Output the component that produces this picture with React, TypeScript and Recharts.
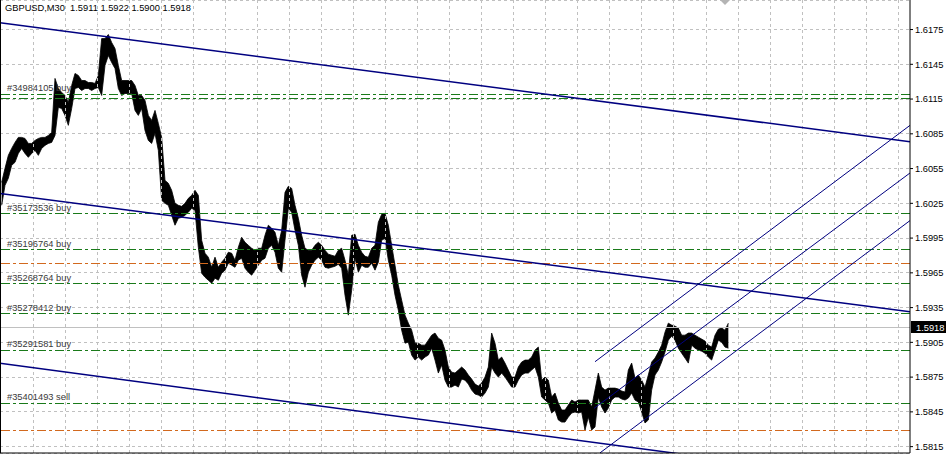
import React from 'react';
import { ComposedChart, Area, XAxis, YAxis, CartesianGrid, ReferenceLine, ReferenceDot } from 'recharts';

// ---- price data (one entry per time slot, high / low) ----
const highs = [
  1.60431,1.60552,1.60664,1.60724,1.60776,1.60819,1.60819,1.60810,1.60767,1.60767,
  1.60793,1.60810,1.60819,1.60819,1.60836,1.60862,1.61328,1.61241,1.61207,1.61181,
  1.61121,1.61267,1.61371,1.61354,1.61310,1.61310,1.61293,1.61293,1.61285,1.61354,
  1.61672,1.61672,1.61707,1.61638,1.61586,1.61440,1.61310,1.61310,1.61310,1.61310,
  1.61267,1.61181,1.61181,1.61138,1.61009,1.60966,1.61052,1.60940,1.60819,1.60448,
  1.60423,1.60362,1.60250,1.60233,1.60224,1.60250,1.60293,1.60319,1.60362,1.60319,
  1.59931,1.59819,1.59785,1.59698,1.59785,1.59698,1.59742,1.59776,1.59828,1.59819,
  1.59759,1.59871,1.59957,1.59914,1.59888,1.59862,1.59845,1.59862,1.59862,1.59974,
  1.60061,1.60035,1.60000,1.59888,1.60017,1.60345,1.60397,1.60379,1.60233,1.60121,
  1.59974,1.59862,1.59845,1.59845,1.59888,1.59914,1.59888,1.59845,1.59811,1.59802,
  1.59793,1.59845,1.59862,1.59759,1.59630,1.59974,1.59983,1.59888,1.59828,1.59793,
  1.59785,1.59862,1.59888,1.60086,1.60155,1.60164,1.60061,1.59888,1.59716,1.59543,
  1.59414,1.59285,1.59216,1.59155,1.59043,1.59043,1.59026,1.59026,1.59069,1.59112,
  1.59130,1.59086,1.59069,1.58983,1.58837,1.58793,1.58785,1.58811,1.58837,1.58811,
  1.58768,1.58733,1.58690,1.58673,1.58699,1.58750,1.58837,1.59130,1.59043,1.58897,
  1.58923,1.58871,1.58811,1.58750,1.58750,1.58837,1.58880,1.58897,1.58897,1.58923,
  1.58983,1.59009,1.58724,1.58750,1.58724,1.58578,1.58612,1.58526,1.58466,1.58466,
  1.58509,1.58552,1.58535,1.58552,1.58552,1.58552,1.58552,1.58492,1.58638,1.58785,
  1.58664,1.58638,1.58655,1.58655,1.58655,1.58647,1.58630,1.58621,1.58811,1.58871,
  1.58742,1.58768,1.58724,1.58664,1.58768,1.58880,1.58914,1.58966,1.59026,1.59138,
  1.59216,1.59199,1.59190,1.59173,1.59112,1.59112,1.59130,1.59130,1.59112,1.59095,
  1.59078,1.59061,1.59026,1.59009,1.59112,1.59164,1.59173,1.59155,1.59216,
];

const lows = [
  1.60233,1.60405,1.60466,1.60578,1.60604,1.60681,1.60724,1.60681,1.60647,1.60681,
  1.60707,1.60664,1.60724,1.60750,1.60767,1.60776,1.60836,1.61078,1.61069,1.61009,
  1.60923,1.61069,1.61241,1.61250,1.61224,1.61241,1.61241,1.61224,1.61241,1.61250,
  1.61181,1.61440,1.61526,1.61466,1.61414,1.61241,1.61181,1.61198,1.61198,1.61198,
  1.61052,1.61009,1.61069,1.60879,1.60793,1.60767,1.60854,1.60707,1.60276,1.60250,
  1.60233,1.60147,1.60061,1.60121,1.60129,1.60147,1.60173,1.60207,1.60190,1.59871,
  1.59647,1.59612,1.59586,1.59561,1.59604,1.59586,1.59647,1.59673,1.59733,1.59716,
  1.59698,1.59759,1.59776,1.59690,1.59655,1.59630,1.59673,1.59716,1.59759,1.59776,
  1.59862,1.59888,1.59828,1.59690,1.59655,1.59931,1.60207,1.60173,1.60017,1.59888,
  1.59630,1.59526,1.59655,1.59716,1.59759,1.59785,1.59759,1.59698,1.59690,1.59698,
  1.59707,1.59724,1.59690,1.59457,1.59285,1.59500,1.59776,1.59655,1.59716,1.59698,
  1.59698,1.59733,1.59673,1.59742,1.59931,1.59948,1.59759,1.59630,1.59457,1.59328,
  1.59155,1.59043,1.59052,1.58940,1.58897,1.58923,1.58897,1.58923,1.58940,1.59000,
  1.58897,1.58785,1.58854,1.58724,1.58664,1.58664,1.58681,1.58664,1.58733,1.58724,
  1.58690,1.58638,1.58604,1.58595,1.58578,1.58612,1.58664,1.58837,1.58785,1.58750,
  1.58785,1.58750,1.58707,1.58664,1.58664,1.58724,1.58768,1.58785,1.58785,1.58811,
  1.58837,1.58750,1.58578,1.58552,1.58526,1.58440,1.58466,1.58380,1.58362,1.58362,
  1.58405,1.58440,1.58449,1.58440,1.58449,1.58293,1.58405,1.58293,1.58319,1.58578,
  1.58492,1.58440,1.58483,1.58552,1.58578,1.58578,1.58561,1.58552,1.58569,1.58612,
  1.58552,1.58535,1.58449,1.58354,1.58380,1.58638,1.58768,1.58811,1.58880,1.58966,
  1.59069,1.59104,1.59069,1.59000,1.58957,1.58914,1.58871,1.59026,1.59000,1.58983,
  1.58974,1.58957,1.58923,1.58897,1.58983,1.59069,1.59052,1.59009,1.59000,
];

// ---- axes ----
const priceTicks = [1.6175, 1.6145, 1.6115, 1.6085, 1.6055, 1.6025, 1.5995, 1.5965, 1.5935, 1.5905, 1.5875, 1.5845, 1.5815];
const priceDomain = [1.58095, 1.62005];
const timeDomain = [-0.5, 272.5];
const gridTimes = [
  9.4, 19.0, 28.6, 38.2, 47.8, 57.5, 67.1, 76.7, 86.3, 95.9,
  105.5, 115.1, 124.7, 134.4, 144.0, 153.6, 163.2, 172.8, 182.4, 192.0,
  201.6, 211.3, 220.9, 230.5, 240.1, 249.7, 259.3, 268.9,
];
const axisTimes = [19.0, 38.2, 57.5, 76.7, 95.9, 115.1, 134.4, 153.6, 172.8, 192.0, 211.3, 230.5, 249.7, 268.9];

// ---- header ----
const symbol = 'GBPUSD,M30';
const ohlc = ['1.5911', '1.5922', '1.5900', '1.5918'];
const lastPrice = 1.5918;
const lastTime = 217;

// ---- orders ----
const orderNames = ['#34984105 buy', '#35173536 buy', '#35196764 buy', '#35268764 buy', '#35278412 buy', '#35291581 buy', '#35401493 sell'];
const orderPrices = [1.61190, 1.60161, 1.59851, 1.59558, 1.59299, 1.58980, 1.58524];
const extraGreenPrices = [1.61158];
const stopPrices = [1.59730, 1.58285];

// ---- trend lines: [time1, price1, time2, price2] ----
const descendingLines = [
  [-0.5, 1.61808, 272.5, 1.60782],
  [-0.5, 1.60334, 272.5, 1.59314],
  [-0.5, 1.58869, 272.5, 1.57823],
];
const ascendingLines = [
  [178.0, 1.58883, 272.5, 1.60923],
  [177.7, 1.58480, 272.5, 1.60512],
  [179.5, 1.58096, 272.5, 1.60101],
];

const priceData = highs.map((h, i) => ({ t: i, range: [lows[i], h] }));

const FONT = '"Liberation Sans", Arial, sans-serif';
const GREEN = '#1a7a1a';
const ORANGE = '#d2691e';
const NAVY = '#000080';
const GRID = '#c0c0c0';
const DASHDOT = '9 3 3 3';

const makeOrderLabel = (text: string) => (props: any) => {
  const vb = props.viewBox || {};
  return (
    <text x={(vb.x || 0) + 7} y={(vb.y || 0) - 3} fontSize={9.3} fontFamily={FONT} fill="#3a3a3a">
      {text}
    </text>
  );
};

const priceTag = (props: any) => {
  const vb = props.viewBox || {};
  const x = (vb.x || 0) + (vb.width || 0) + 1;
  const y = Math.round(vb.y || 0);
  return (
    <g>
      <rect x={x} y={y - 6} width={35} height={12} fill="#000" />
      <text x={x + 5} y={y + 3.5} fontSize={9.3} fontFamily={FONT} fill="#fff">
        {lastPrice.toFixed(4)}
      </text>
    </g>
  );
};

const shiftMarker = (props: any) => {
  const { cx, cy } = props;
  return <polygon points={`${cx - 5},${cy} ${cx + 5},${cy} ${cx},${cy + 5}`} fill="#b4b4b4" />;
};

export default function App() {
  return (
    <div style={{ position: 'absolute', left: 0, top: 0, width: 950, height: 455, background: '#fff', overflow: 'hidden' }}>
      <ComposedChart width={950} height={455} data={priceData} margin={{ top: 0, right: 0, bottom: 0, left: 0 }}>
        <CartesianGrid vertical={false} stroke={GRID} strokeDasharray="3 3" shapeRendering="crispEdges" />
        <XAxis
          type="number"
          dataKey="t"
          domain={timeDomain}
          ticks={axisTimes}
          allowDataOverflow
          tick={false}
          tickLine={{ stroke: '#000' }}
          tickSize={4}
          axisLine={{ stroke: '#000' }}
          height={2}
        />
        <YAxis
          orientation="right"
          width={40}
          domain={priceDomain}
          allowDataOverflow
          ticks={priceTicks}
          interval={0}
          tickFormatter={(v: number) => v.toFixed(4)}
          tick={{ fontSize: 9.3, fill: '#000', fontFamily: FONT }}
          tickSize={3}
          tickLine={{ stroke: '#000' }}
          axisLine={{ stroke: '#000' }}
        />
        {gridTimes.map((t) => (
          <ReferenceLine key={'g' + t} x={t} stroke={GRID} strokeDasharray="3 3" shapeRendering="crispEdges" />
        ))}
        <ReferenceLine y={lastPrice} stroke={GRID} strokeWidth={1} shapeRendering="crispEdges" label={priceTag} />
        <Area
          type="linear"
          dataKey="range"
          stroke="#000"
          strokeWidth={0.8}
          fill="#000"
          fillOpacity={1}
          dot={false}
          activeDot={false}
          isAnimationActive={false}
        />
        {orderPrices.map((p, i) => (
          <ReferenceLine
            key={'o' + i}
            y={p}
            stroke={GREEN}
            strokeDasharray={DASHDOT}
            shapeRendering="crispEdges"
            label={makeOrderLabel(orderNames[i])}
          />
        ))}
        {extraGreenPrices.map((p, i) => (
          <ReferenceLine key={'e' + i} y={p} stroke={GREEN} strokeDasharray={DASHDOT} shapeRendering="crispEdges" />
        ))}
        {stopPrices.map((p, i) => (
          <ReferenceLine key={'s' + i} y={p} stroke={ORANGE} strokeDasharray={DASHDOT} shapeRendering="crispEdges" />
        ))}
        {descendingLines.map((l, i) => (
          <ReferenceLine
            key={'d' + i}
            segment={[{ x: l[0], y: l[1] }, { x: l[2], y: l[3] }]}
            stroke={NAVY}
            strokeWidth={1.5}
            ifOverflow="hidden"
          />
        ))}
        {ascendingLines.map((l, i) => (
          <ReferenceLine
            key={'a' + i}
            segment={[{ x: l[0], y: l[1] }, { x: l[2], y: l[3] }]}
            stroke={NAVY}
            strokeWidth={1}
            ifOverflow="hidden"
          />
        ))}
        <ReferenceLine x={timeDomain[0]} stroke="#000" strokeWidth={2} />
        <ReferenceDot x={lastTime} y={priceDomain[1]} r={5} shape={shiftMarker} />
      </ComposedChart>
      <div
        style={{
          position: 'absolute',
          left: 5,
          top: 3,
          fontFamily: FONT,
          fontSize: 9.3,
          lineHeight: '10px',
          color: '#000',
          whiteSpace: 'pre',
        }}
      >
        {symbol + '  ' + ohlc.join(' ')}
      </div>
    </div>
  );
}
